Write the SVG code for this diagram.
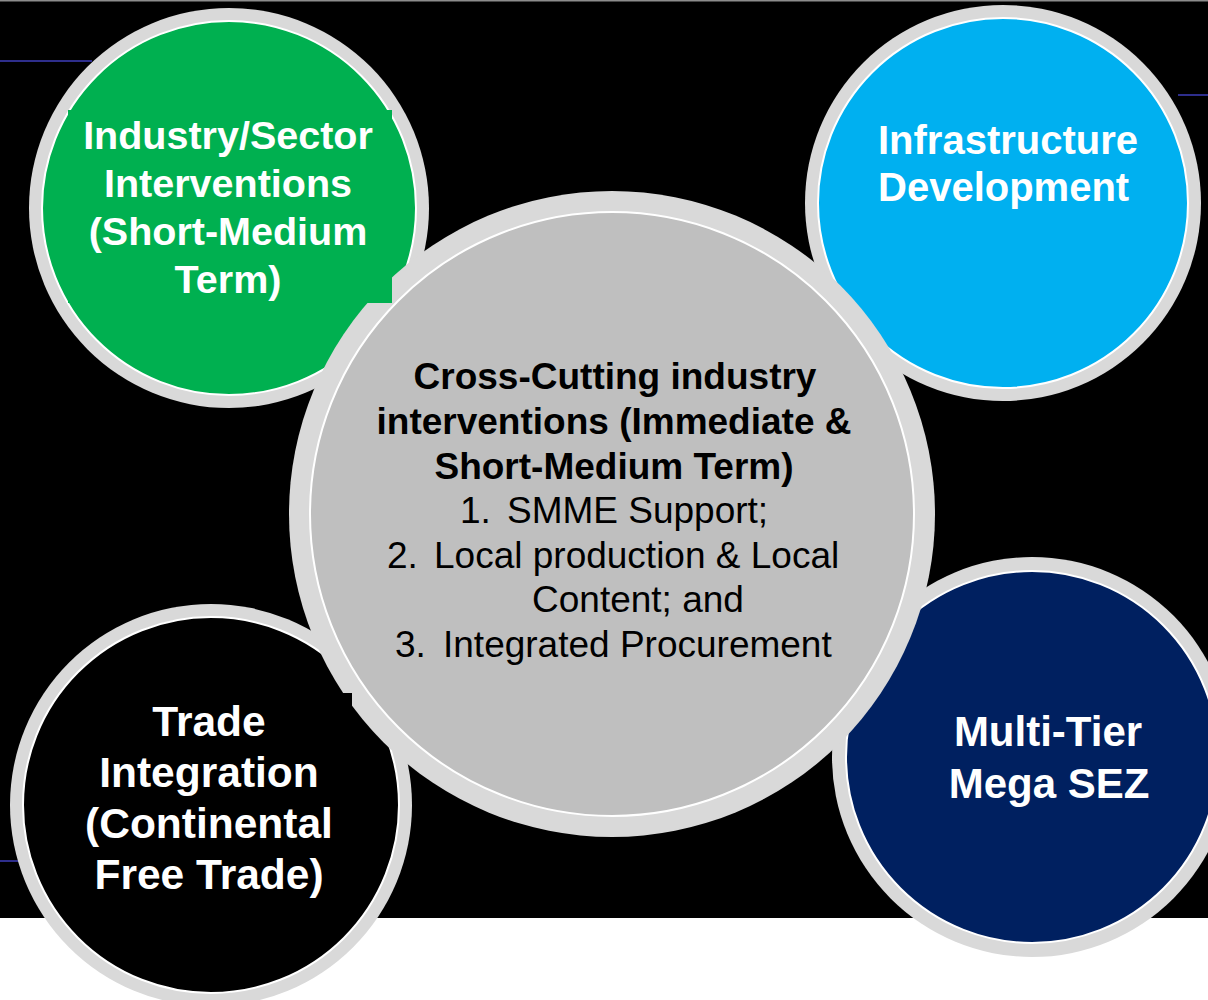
<svg xmlns="http://www.w3.org/2000/svg" width="1208" height="1000" viewBox="0 0 1208 1000">
<defs>
<style>
.ring{fill:#d9d9d9;}
.inner{stroke:#ffffff;stroke-width:2;}
.hd{font-family:"Liberation Sans",Arial,sans-serif;font-weight:bold;fill:#ffffff;text-anchor:middle;}
.ct{font-family:"Liberation Sans",Arial,sans-serif;fill:#000000;font-size:37px;}
.rule{stroke:#2e2e8c;stroke-width:2;}
</style>
</defs>
<rect x="0" y="0" width="1208" height="1000" fill="#ffffff"/>
<rect x="0" y="0" width="1208" height="918" fill="#000000"/>
<line x1="0" y1="0.75" x2="1208" y2="0.75" stroke="#8c8c8c" stroke-width="1.5"/>
<g id="rules">
<line class="rule" x1="0" y1="61" x2="92" y2="61"/>
<line class="rule" x1="1178" y1="95" x2="1208" y2="95"/>
<line class="rule" x1="0" y1="861" x2="20" y2="861"/>
</g>
<g id="node-industry">
<circle class="ring" cx="229" cy="208" r="200"/>
<circle class="inner" cx="229" cy="208" r="187" fill="#00b050"/>
</g>
<g id="node-infrastructure">
<circle class="ring" cx="1003" cy="203" r="198"/>
<circle class="inner" cx="1003" cy="203" r="185" fill="#00b0f0"/>
<text class="hd" x="878" y="154" font-size="40" text-anchor="start" style="text-anchor:start">Infrastructure</text>
<text class="hd" x="878" y="201" font-size="40" style="text-anchor:start">Development</text>
</g>
<g id="node-trade">
<circle class="ring" cx="211" cy="805" r="201"/>
<circle class="inner" cx="211" cy="805" r="188" fill="#000000"/>
</g>
<g id="node-sez">
<circle class="ring" cx="1032" cy="757" r="200"/>
<circle class="inner" cx="1032" cy="757" r="186" fill="#002060"/>
<text class="hd" x="1048" y="746" font-size="42">Multi-Tier</text>
<text class="hd" x="1049" y="798" font-size="42">Mega SEZ</text>
</g>
<g id="node-center">
<circle class="ring" cx="612" cy="514" r="323"/>
<circle class="inner" cx="612" cy="514" r="302" fill="#bfbfbf"/>
<g class="ct" font-weight="bold" text-anchor="middle">
<text x="615" y="389">Cross-Cutting industry</text>
<text x="614" y="434">interventions (Immediate &amp;</text>
<text x="614" y="479">Short-Medium Term)</text>
</g>
<g class="ct">
<text x="460" y="523">1.</text>
<text x="507" y="523">SMME Support;</text>
<text x="387" y="568">2.</text>
<text x="434" y="568">Local production &amp; Local</text>
<text x="532" y="612">Content; and</text>
<text x="395" y="657">3.</text>
<text x="443" y="657">Integrated Procurement</text>
</g>
</g>
<g id="label-industry">
<rect x="68" y="110" width="324" height="193" fill="#00b050"/>
<text class="hd" x="228" y="149" font-size="39.5">Industry/Sector</text>
<text class="hd" x="228" y="197" font-size="39.5">Interventions</text>
<text class="hd" x="228" y="245" font-size="39.5">(Short-Medium</text>
<text class="hd" x="228" y="293" font-size="39.5">Term)</text>
</g>
<g id="label-trade">
<rect x="70" y="693" width="282" height="210" fill="#000000"/>
<text class="hd" x="209" y="736" font-size="42.5">Trade</text>
<text class="hd" x="209" y="787" font-size="42.5">Integration</text>
<text class="hd" x="209" y="838" font-size="42.5">(Continental</text>
<text class="hd" x="209" y="889" font-size="42.5">Free Trade)</text>
</g>
<g id="connectors"></g>
</svg>
